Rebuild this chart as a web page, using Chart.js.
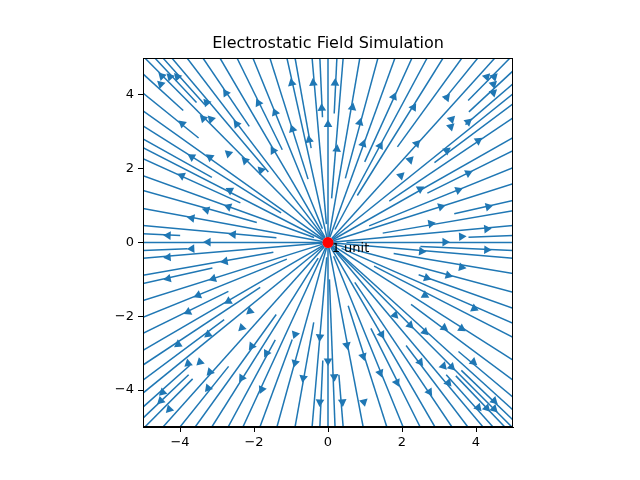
<!DOCTYPE html>
<html>
<head>
<meta charset="utf-8">
<script src="https://cdn.jsdelivr.net/npm/chart.js@4"></script>
<style>
body { margin: 0; background: #fff; }
</style>
</head>
<body>
<canvas id="myChart" width="640" height="480"></canvas>
<script>
var chartTitle = "Electrostatic Field Simulation";
var chargeLabel = "1 unit";
var tickValues = [-4, -2, 0, 2, 4];

// streamlines: where each one leaves the box, and how close to the charge it starts
var topEdgeX = [-4.95, -4.68, -4.46, -4.22, -3.81, -3.38, -2.92, -2.46, -2.03, -1.57, -1.11, -0.89, -0.43, -0.22, 0, 0.24, 0.41, 0.86, 1.35, 1.81, 2.27, 2.68, 3.11, 3.62, 4.05, 4.51, 4.92];
var topStartR = [0.15, 5.2, 5.0, 2.5, 0.15, 3.8, 0.15, 2.8, 0.4, 1.8, 0.1, 2.6, 0.5, 3.4, 0.1, 3.5, 1.2, 0.15, 1.8, 0.15, 2.4, 0.4, 1.5, 3.2, 5.0, 0.15, 5.4];

var rightEdgeY = [4.65, 4.30, 4.03, 3.76, 3.38, 2.84, 2.49, 2.03, 1.59, 1.14, 0.86, 0.46, 0.19, 0, -0.22, -0.43, -0.84, -1.35, -1.78, -2.19, -2.57, -3.19, -3.73, -4.19, -4.54, -4.81];
var rightStartR = [5.2, 4.9, 0.15, 3.6, 2.0, 0.15, 3.0, 1.2, 0.15, 3.5, 1.5, 0.1, 3.8, 0.5, 2.5, 0.15, 1.8, 0.15, 2.6, 0.4, 1.4, 0.15, 2.8, 4.6, 0.15, 5.0];

var bottomEdgeX = [4.97, 4.78, 4.46, 4.19, 3.78, 3.35, 2.89, 2.49, 2.03, 1.59, 0.95, 0.41, 0.19, 0, -0.22, -0.43, -0.89, -1.38, -1.84, -2.30, -2.70, -3.14, -3.59, -4.0, -4.46, -4.95];
var bottomStartR = [0.15, 5.0, 4.8, 0.15, 3.5, 1.3, 0.15, 2.6, 0.4, 1.8, 0.15, 3.6, 1.0, 0.1, 3.2, 0.4, 2.2, 0.15, 2.8, 0.15, 3.0, 0.5, 2.4, 4.3, 0.15, 5.2];

var leftEdgeY = [-4.76, -4.46, -4.08, -3.73, -3.32, -2.92, -2.46, -2.03, -1.57, -1.11, -0.89, -0.43, -0.22, 0, 0.24, 0.46, 0.92, 1.41, 1.81, 2.27, 2.57, 2.81, 3.16, 3.57, 4.05, 4.57];
var leftStartR = [5.2, 5.0, 0.15, 3.5, 2.2, 0.15, 3.0, 1.2, 0.15, 3.2, 1.5, 0.15, 3.8, 0.1, 4.0, 1.4, 0.15, 2.0, 0.4, 2.6, 0.15, 3.6, 1.5, 0.15, 4.5, 5.3];

// arrow heads
var arrowX = [-4.49, -4.27, -4.07, -4.52, -3.28, -3.94, -3.37, -3.16, -2.76, -2.47, -1.88, -1.43, -0.98, -0.96, -0.40, -0.17, -0.51, 0, 0.19, 0.66, 0.86, 1.78, 2.31, 3.21, 3.34, 3.32, 3.79, 4.29, 4.49, 4.47, 4.47, 4.06, 0.95, 0.24, 1.41, 2.40,
    -3.68, -3.19, -2.69, -2.24, -1.81, -1.48, -3.95, -2.65, -2.69, -3.28, -3.68, -2.56, -4.32, -3.24,
    3.21, 2.22, 1.97, 2.49, 3.79, 3.52, 3.05, 4.33, 2.78, 4.29, 3.61, 3.16,
    -3.68, -4.32, -2.78, -4.32, -3.10, -3.51, -2.69, -3.78, -2.11, -2.33, -3.24, -0.89, -0.22,
    2.53, 4.29, 3.61, 3.25, 2.67, 2.62, 3.95, 1.81, 2.22, 2.62, 3.14, 3.61,
    -4.05, -3.78, -3.46, -3.19, -2.06, -1.66, -0.89, -0.67, 0, -2.33, -3.24, -1.79, -4.47, -4.52, -4.29, -0.22,
    0.51, 0.17, 0.95, 1.45, 1.41, 1.86, 0.39, 0.97, 2.49, 3.12, 3.34, 3.25, 2.74, 3.93, 4.49, 4.06, 4.29, 4.49];
var arrowY = [4.51, 4.49, 4.49, 4.29, 3.79, 3.22, 3.36, 3.34, 4.05, 3.21, 3.78, 3.52, 4.32, 3.07, 4.32, 3.64, 2.78, 3.20, 4.32, 3.66, 3.25, 3.95, 3.66, 3.93, 3.34, 3.14, 3.27, 4.49, 4.49, 4.29, 4.06, 2.76, 2.67, 2.53, 2.62, 2.68,
    2.32, 2.31, 2.41, 2.22, 1.96, 2.49, 1.81, 1.41, 0.97, 0.88, 0.66, 0.22, 0.19, 0.01,
    2.49, 2.24, 1.81, 1.45, 1.88, 1.42, 0.97, 0.97, 0.51, 0.37, 0.16, 0.01,
    -0.17, -0.40, -0.51, -0.98, -0.98, -1.43, -1.59, -1.88, -1.86, -2.31, -2.49, -2.49, -2.56,
    -0.24, -0.20, -0.67, -0.89, -0.96, -1.43, -1.79, -1.97, -2.24, -2.42, -2.31, -2.33,
    -2.76, -3.28, -3.24, -3.51, -2.81, -3.00, -3.26, -3.67, -3.21, -3.67, -3.95, -3.98, -4.06, -4.29, -4.52, -4.32,
    -2.78, -3.64, -3.08, -2.49, -3.53, -3.79, -4.32, -4.32, -3.24, -3.35, -3.37, -3.80, -4.05, -3.24, -4.29, -4.47, -4.49, -4.51];

var lineColor = "#1f77b4";
var datasets = [];

window.onload = function() {
    addEdge(topEdgeX, topStartR, "top");
    addEdge(rightEdgeY, rightStartR, "right");
    addEdge(bottomEdgeX, bottomStartR, "bottom");
    addEdge(leftEdgeY, leftStartR, "left");
    addArrows();
    addCharge();
    buildChart();
};

function addEdge(values, startR, side) {
    for (var i = 0; i < values.length; i++) {
        var ex, ey;
        if (side == "top") { ex = values[i]; ey = 5; }
        if (side == "bottom") { ex = values[i]; ey = -5; }
        if (side == "right") { ex = 5; ey = values[i]; }
        if (side == "left") { ex = -5; ey = values[i]; }
        var len = Math.sqrt(ex * ex + ey * ey);
        var k = Math.min(startR[i] / len, 1);
        datasets.push({
            type: "line",
            data: [{x: ex * k, y: ey * k}, {x: ex, y: ey}],
            borderColor: lineColor,
            borderWidth: 1.5,
            pointRadius: 0,
            fill: false,
            order: 3
        });
    }
}

function addArrows() {
    var pts = [];
    for (var i = 0; i < arrowX.length; i++) {
        pts.push({x: arrowX[i], y: arrowY[i]});
    }
    datasets.push({
        type: "scatter",
        data: pts,
        pointStyle: "triangle",
        pointRadius: 5,
        pointHoverRadius: 5,
        borderWidth: 0,
        backgroundColor: lineColor,
        rotation: function(ctx) {
            var p = ctx.raw;
            if (!p) return 0;
            return Math.atan2(p.x, p.y) * 180 / Math.PI;
        },
        order: 2
    });
}

function addCharge() {
    datasets.push({
        type: "scatter",
        data: [{x: 0, y: 0}],
        pointStyle: "circle",
        pointRadius: 5.5,
        borderWidth: 0,
        backgroundColor: "#ff0000",
        order: 1
    });
}

var extras = {
    id: "extras",
    afterDraw: function(chart) {
        var c = chart.ctx;
        var a = chart.chartArea;
        c.save();
        c.strokeStyle = "#000";
        c.lineWidth = 1;
        c.strokeRect(Math.round(a.left) + 0.5, Math.round(a.top) + 0.5, Math.round(a.right - a.left) - 1, Math.round(a.bottom - a.top) - 1);
        c.fillStyle = "#000";
        c.font = "16px 'DejaVu Sans'";
        c.textAlign = "center";
        c.textBaseline = "alphabetic";
        c.fillText(chartTitle, (a.left + a.right) / 2, 48);
        c.font = "13px 'DejaVu Sans'";
        c.textAlign = "left";
        c.fillText(chargeLabel, chart.scales.x.getPixelForValue(0.1), chart.scales.y.getPixelForValue(-0.27));
        c.restore();
    }
};

function fixTicks(scale) {
    scale.ticks = tickValues.map(function(v) { return {value: v}; });
}

function buildChart() {
    Chart.defaults.font.family = "'DejaVu Sans'";
    Chart.defaults.font.size = 13;
    Chart.defaults.color = "#000";
    var ctx = document.getElementById("myChart");
    var myChart = new Chart(ctx, {
        data: { datasets: datasets },
        options: {
            responsive: false,
            animation: false,
            events: [],
            layout: { padding: { left: 0, top: 58, right: 127, bottom: 0 } },
            plugins: { legend: { display: false }, tooltip: { enabled: false } },
            scales: {
                x: {
                    type: "linear",
                    min: -5, max: 5,
                    afterBuildTicks: fixTicks,
                    afterFit: function(s) { s.height = 53; },
                    grid: { drawOnChartArea: false, drawTicks: true, tickLength: 5, color: "#000" },
                    border: { display: true, color: "#000" },
                    ticks: {
                        padding: 3,
                        maxRotation: 0,
                        callback: function(v) { return String(v).replace("-", "\u2212"); }
                    }
                },
                y: {
                    type: "linear",
                    min: -5, max: 5,
                    afterBuildTicks: fixTicks,
                    afterFit: function(s) { s.width = 143; },
                    grid: { drawOnChartArea: false, drawTicks: true, tickLength: 5, color: "#000" },
                    border: { display: true, color: "#000" },
                    ticks: {
                        padding: 4,
                        callback: function(v) { return String(v).replace("-", "\u2212"); }
                    }
                }
            }
        },
        plugins: [extras]
    });
}
</script>
</body>
</html>
